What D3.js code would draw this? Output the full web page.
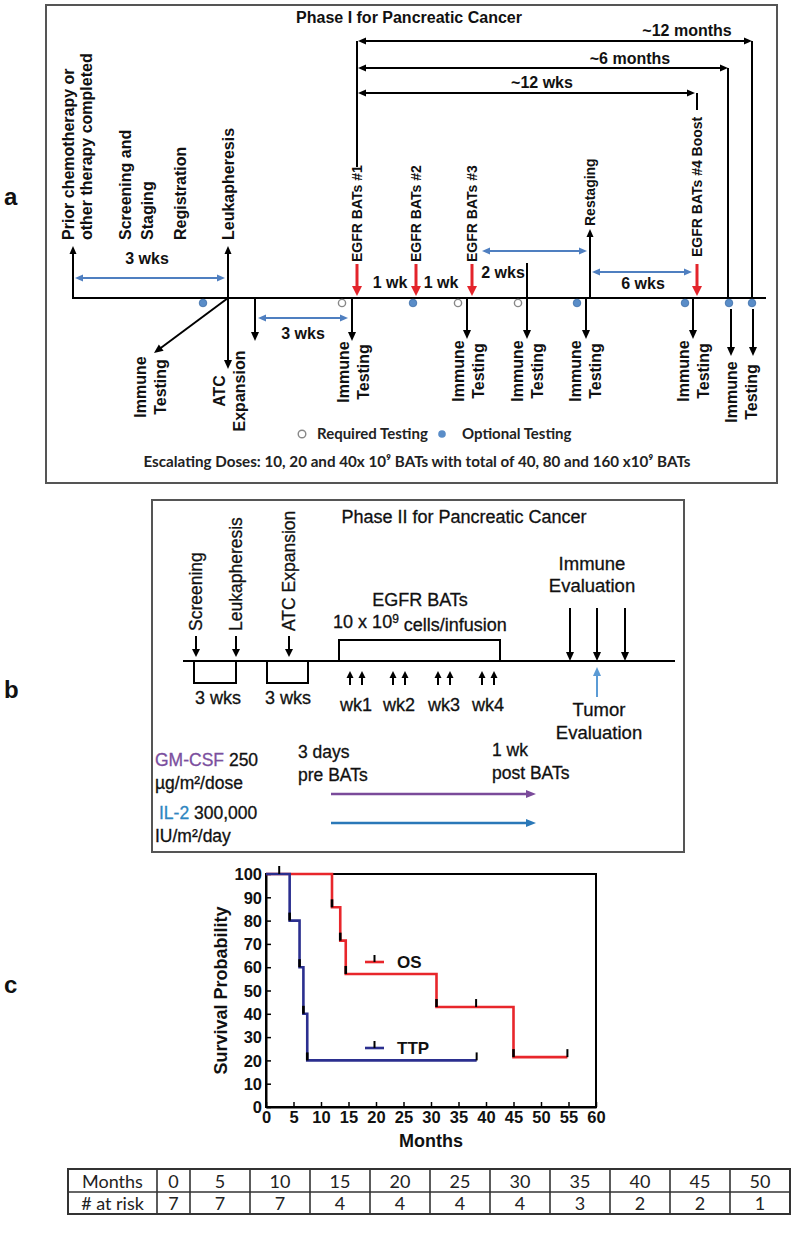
<!DOCTYPE html>
<html>
<head>
<meta charset="utf-8">
<script src="https://cdn.jsdelivr.net/npm/d3@7"></script>
<style>
  body { margin: 0; background: #fff; }
  svg { display: block; }
  text { font-family: "Liberation Sans", Arial, sans-serif; fill: #111; }
  .pb text { stroke: #111; stroke-width: 0.3px; }
</style>
</head>
<body>
<svg width="800" height="1236"></svg>
<script>
// ---- panel a texts
var titleA = "Phase I for Pancreatic Cancer";
var topLabels = [["Prior chemotherapy or", "other therapy completed"], ["Screening and", "Staging"], ["Registration"], ["Leukapheresis"]];
var batLabels = ["EGFR BATs #1", "EGFR BATs #2", "EGFR BATs #3", "EGFR BATs #4 Boost"];
var spanLabels = ["~12 months", "~6 months", "~12 wks"];
var gapLabels = ["3 wks", "3 wks", "1 wk", "1 wk", "2 wks", "6 wks"];
var belowLabels = [["Immune", "Testing"], ["ATC", "Expansion"], ["Immune", "Testing"], ["Immune", "Testing"],
  ["Immune", "Testing"], ["Immune", "Testing"], ["Immune", "Testing"], ["Immune", "Testing"]];
var testingKinds = ["Required Testing", "Optional Testing"];
var doseNote = "Escalating Doses: 10, 20 and 40x 10\u2079 BATs with total of 40, 80 and 160 x10\u2079 BATs";

// ---- panel b texts
var titleB = "Phase II for Pancreatic Cancer";
var prepLabels = ["Screening", "Leukapheresis", "ATC Expansion"];
var weekLabels = ["wk1", "wk2", "wk3", "wk4"];

// ---- panel c data (Kaplan-Meier)
var osTime = [0, 12, 13.5, 14.5, 31, 45];
var osSurv = [100, 85.7, 71.4, 57.1, 42.9, 21.4];
var osEnd = 54.8;
var osCensorT = [38.2, 54.8];
var osCensorS = [42.9, 21.4];
var ttpTime = [0, 4.3, 6.1, 6.8, 7.5];
var ttpSurv = [100, 80, 60, 40, 20];
var ttpEnd = 38.3;
var ttpCensorT = [2.4, 38.3];
var ttpCensorS = [100, 20];
var xTicks = [0, 5, 10, 15, 20, 25, 30, 35, 40, 45, 50, 55, 60];
var yTicks = [0, 10, 20, 30, 40, 50, 60, 70, 80, 90, 100];
var tableMonths = [0, 5, 10, 15, 20, 25, 30, 35, 40, 45, 50];
var atRisk = [7, 7, 7, 4, 4, 4, 4, 3, 2, 2, 1];

var svg = d3.select("svg");

// draw a line with filled arrow heads
function arrow(g, x1, y1, x2, y2, color, w, heads, hl, hw) {
  var dx = x2 - x1, dy = y2 - y1, L = Math.sqrt(dx * dx + dy * dy);
  var ux = dx / L, uy = dy / L;
  var sx = x1, sy = y1, ex = x2, ey = y2;
  if (heads == "end" || heads == "both") { ex = x2 - ux * hl * 0.7; ey = y2 - uy * hl * 0.7; }
  if (heads == "start" || heads == "both") { sx = x1 + ux * hl * 0.7; sy = y1 + uy * hl * 0.7; }
  g.append("line").attr("x1", sx).attr("y1", sy).attr("x2", ex).attr("y2", ey)
    .attr("stroke", color).attr("stroke-width", w);
  function head(tx, ty, vx, vy) {
    var bx = tx - vx * hl, by = ty - vy * hl;
    var px = -vy * hw / 2, py = vx * hw / 2;
    g.append("path").attr("d", "M" + tx + "," + ty + "L" + (bx + px) + "," + (by + py) + "L" + (bx - px) + "," + (by - py) + "Z")
      .attr("fill", color);
  }
  if (heads == "end" || heads == "both") head(x2, y2, ux, uy);
  if (heads == "start" || heads == "both") head(x1, y1, -ux, -uy);
}

// rotated text; "start" puts the bottom end of the text at y
function vtext(g, x, y, str, size, anchor, weight) {
  return g.append("text").attr("transform", "translate(" + x + "," + y + ") rotate(-90)")
    .attr("text-anchor", anchor).attr("dy", "0.35em")
    .style("font-size", size + "px").style("font-weight", weight || "bold").text(str);
}

function htext(g, x, y, str, size, anchor, weight) {
  return g.append("text").attr("x", x).attr("y", y).attr("dy", "0.35em")
    .attr("text-anchor", anchor || "middle")
    .style("font-size", size + "px").style("font-weight", weight || "bold").text(str);
}

// panel letters
[["a", 205], ["b", 698], ["c", 993]].forEach(function (d) {
  svg.append("text").attr("x", 4).attr("y", d[1]).style("font-size", "24px").style("font-weight", "bold").text(d[0]);
});

// ================= panel a =================
var A = svg.append("g");
var blueA = "#4f7fc0", redA = "#e3242b", dotBlue = "#5a8dc8";
A.append("rect").attr("x", 46).attr("y", 5).attr("width", 731).attr("height", 478)
  .attr("fill", "none").attr("stroke", "#555").attr("stroke-width", 2);
htext(A, 409, 17, titleA, 16);

A.append("line").attr("x1", 72).attr("x2", 766).attr("y1", 298).attr("y2", 298).attr("stroke", "#000").attr("stroke-width", 2);

// left top labels
arrow(A, 73, 298, 73, 246, "#000", 2, "end", 8, 7);
arrow(A, 228, 298, 228, 246, "#000", 2, "end", 8, 7);
var topX = [[68, 86], [125, 147], [180], [228]];
topLabels.forEach(function (lines, i) {
  lines.forEach(function (s, j) { vtext(A, topX[i][j], 240, s, 16, "start"); });
});
arrow(A, 75, 278, 225, 278, blueA, 2, "both", 8, 7);
htext(A, 147, 258, gapLabels[0], 16);

// BATs infusions
var batX = [357, 416, 472, 697];
batLabels.forEach(function (s, i) {
  vtext(A, batX[i], i == 3 ? 257 : 262, s, 14, "start");
  arrow(A, batX[i], 264, batX[i], 296, redA, 3, "end", 10, 10);
});
A.append("line").attr("x1", 357).attr("x2", 357).attr("y1", 41).attr("y2", 167).attr("stroke", "#000").attr("stroke-width", 2);

// follow-up spans
var spanY = [41, 68, 93], spanEnd = [752, 728, 695], spanLx = [687, 630, 542], spanLy = [30, 58, 82];
spanLabels.forEach(function (s, i) {
  arrow(A, 358, spanY[i], spanEnd[i], spanY[i], "#000", 2, "both", 8, 7);
  htext(A, spanLx[i], spanLy[i], s, 16);
});
A.append("line").attr("x1", 752).attr("x2", 752).attr("y1", 41).attr("y2", 298).attr("stroke", "#000").attr("stroke-width", 2);
A.append("line").attr("x1", 728).attr("x2", 728).attr("y1", 68).attr("y2", 298).attr("stroke", "#000").attr("stroke-width", 2);
A.append("line").attr("x1", 697).attr("x2", 697).attr("y1", 93).attr("y2", 110).attr("stroke", "#000").attr("stroke-width", 2);

htext(A, 390, 282, gapLabels[2], 16);
htext(A, 441, 282, gapLabels[3], 16);
htext(A, 503, 272, gapLabels[4], 16);
htext(A, 643, 283, gapLabels[5], 16);
A.append("line").attr("x1", 527).attr("x2", 527).attr("y1", 263).attr("y2", 298).attr("stroke", "#000").attr("stroke-width", 2);
arrow(A, 482, 251, 587, 251, blueA, 2, "both", 8, 7);
arrow(A, 592, 272, 692, 272, blueA, 2, "both", 8, 7);
arrow(A, 590, 298, 590, 229, "#000", 2, "end", 8, 7);
vtext(A, 590, 226, "Restaging", 14, "start");

// below timeline
arrow(A, 228, 298, 154, 353, "#000", 2, "end", 9, 8);
[[228, 298, 369], [255, 298, 341], [352, 298, 341], [467, 298, 339], [527, 298, 339], [586, 298, 339], [693, 298, 339], [731, 309, 356], [753, 309, 356]]
  .forEach(function (d) { arrow(A, d[0], d[1], d[0], d[2], "#000", 2, "end", 9, 8); });
arrow(A, 258, 318, 348, 318, blueA, 2, "both", 8, 7);
htext(A, 303, 333, gapLabels[1], 16);

var belowPos = [[150, 387], [229, 391], [353, 372], [468, 371], [527, 371], [585, 371], [693, 371], [741, 392]];
belowLabels.forEach(function (lines, i) {
  var p = belowPos[i];
  vtext(A, p[0] - 10, p[1], lines[0], 16, "middle");
  vtext(A, p[0] + 10, p[1], lines[1], 16, "middle");
});

// testing dots
[203, 413, 577, 685, 729, 752].forEach(function (x) {
  A.append("circle").attr("cx", x).attr("cy", 303).attr("r", 3.8).attr("fill", dotBlue).attr("stroke", "#3f6fa8").attr("stroke-width", 0.8);
});
[342, 458, 518].forEach(function (x) {
  A.append("circle").attr("cx", x).attr("cy", 303).attr("r", 3.6).attr("fill", "#fff").attr("stroke", "#888").attr("stroke-width", 1.4);
});

// legend
A.append("circle").attr("cx", 302).attr("cy", 434).attr("r", 3.8).attr("fill", "#fff").attr("stroke", "#888").attr("stroke-width", 1.4);
A.append("circle").attr("cx", 442).attr("cy", 434).attr("r", 3.8).attr("fill", dotBlue);
htext(A, 317, 434, testingKinds[0], 15, "start").style("font-family", "Lato").style("fill", "#222");
htext(A, 462, 434, testingKinds[1], 15, "start").style("font-family", "Lato").style("fill", "#222");
htext(A, 417, 462, doseNote, 15.2).style("font-family", "Lato").style("fill", "#222");

// ================= panel b =================
var B = svg.append("g").attr("class", "pb");
B.append("rect").attr("x", 152).attr("y", 500).attr("width", 532).attr("height", 352)
  .attr("fill", "none").attr("stroke", "#555").attr("stroke-width", 2);
htext(B, 464, 517, titleB, 18, "middle", "normal");
B.append("line").attr("x1", 183).attr("x2", 675).attr("y1", 661).attr("y2", 661).attr("stroke", "#000").attr("stroke-width", 2);

var prepX = [196, 236, 289];
prepLabels.forEach(function (s, i) {
  vtext(B, prepX[i], 631, s, 17.5, "start", "normal");
  arrow(B, prepX[i], 636, prepX[i], 657, "#000", 2, "end", 8, 8);
});
B.append("path").attr("d", "M194,661V683H236V661").attr("fill", "none").attr("stroke", "#000").attr("stroke-width", 2);
B.append("path").attr("d", "M267,661V683H308V661").attr("fill", "none").attr("stroke", "#000").attr("stroke-width", 2);
htext(B, 218, 698, "3 wks", 18, "middle", "normal");
htext(B, 288, 698, "3 wks", 18, "middle", "normal");

B.append("path").attr("d", "M339,661V640H500V661").attr("fill", "none").attr("stroke", "#000").attr("stroke-width", 2);
htext(B, 420, 600, "EGFR  BATs", 18, "middle", "normal");
var t10 = htext(B, 420, 622, "", 18, "middle", "normal");
t10.append("tspan").text("10 x 10");
t10.append("tspan").attr("dy", "-0.45em").style("font-size", "12px").text("9");
t10.append("tspan").attr("dy", "0.45em").text(" cells/infusion");

var wkX = [356, 399, 444, 488];
weekLabels.forEach(function (s, i) {
  [-6, 6].forEach(function (o) { arrow(B, wkX[i] + o, 685, wkX[i] + o, 671, "#000", 2, "end", 7, 7); });
  htext(B, wkX[i], 705, s, 18, "middle", "normal");
});

htext(B, 592, 564, "Immune", 18.5, "middle", "normal");
htext(B, 592, 586, "Evaluation", 18.5, "middle", "normal");
[570, 597, 625].forEach(function (x) { arrow(B, x, 608, x, 661, "#000", 2, "end", 9, 8); });
arrow(B, 597, 697, 597, 667, "#5b9bd5", 2, "end", 9, 8);
htext(B, 599, 710, "Tumor", 18.5, "middle", "normal");
htext(B, 599, 733, "Evaluation", 18.5, "middle", "normal");

var gm = htext(B, 155, 760, "", 17.5, "start", "normal");
gm.append("tspan").style("fill", "#7b4f9e").style("stroke", "#7b4f9e").text("GM-CSF");
gm.append("tspan").text(" 250");
htext(B, 155, 783, "\u00b5g/m\u00b2/dose", 17.5, "start", "normal");
var il = htext(B, 159, 813, "", 17.5, "start", "normal");
il.append("tspan").style("fill", "#2e86c1").style("stroke", "#2e86c1").text("IL-2");
il.append("tspan").text(" 300,000");
htext(B, 155, 836, "IU/m\u00b2/day", 17.5, "start", "normal");
htext(B, 298, 752, "3 days", 17.5, "start", "normal");
htext(B, 298, 775, "pre BATs", 17.5, "start", "normal");
htext(B, 492, 750, "1 wk", 17.5, "start", "normal");
htext(B, 492, 773, "post  BATs", 17.5, "start", "normal");
arrow(B, 331, 794, 536, 794, "#7a4a9a", 2.5, "end", 10, 8);
arrow(B, 331, 823, 536, 823, "#2a78b8", 2.5, "end", 10, 8);

// ================= panel c =================
var C = svg.append("g");
var x = d3.scaleLinear().domain([0, 60]).range([266, 596]);
var y = d3.scaleLinear().domain([0, 100]).range([1107, 874]);

C.append("rect").attr("x", x(0)).attr("y", y(100)).attr("width", x(60) - x(0)).attr("height", y(0) - y(100))
  .attr("fill", "none").attr("stroke", "#000").attr("stroke-width", 2);

var ax = C.append("g").attr("transform", "translate(0," + y(0) + ")")
  .call(d3.axisBottom(x).tickValues(xTicks).tickSizeInner(-5).tickSizeOuter(0).tickPadding(6));
var ay = C.append("g").attr("transform", "translate(" + x(0) + ",0)")
  .call(d3.axisLeft(y).tickValues(yTicks).tickSizeInner(-5).tickSizeOuter(0).tickPadding(4));
[ax, ay].forEach(function (g) {
  g.select(".domain").attr("stroke", "#000").attr("stroke-width", 2);
  g.selectAll(".tick line").attr("stroke", "#000").attr("stroke-width", 1.5);
  g.selectAll("text").style("font-size", "16.5px").style("font-weight", "bold")
    .style("font-family", "'Liberation Sans', Arial, sans-serif").attr("fill", "#111");
});
ay.selectAll("text").attr("dy", "0.35em");
ax.selectAll("text").attr("dy", "0.6em");

C.append("text").attr("transform", "translate(221," + ((y(0) + y(100)) / 2) + ") rotate(-90)")
  .attr("text-anchor", "middle").attr("dy", "0.35em")
  .style("font-size", "18px").style("font-weight", "bold").text("Survival Probability");
htext(C, (x(0) + x(60)) / 2, 1141, "Months", 18);

var stepLine = d3.line().x(function (d) { return x(d[0]); }).y(function (d) { return y(d[1]); }).curve(d3.curveStepAfter);
function curve(times, surv, end, color) {
  var pts = times.map(function (t, i) { return [t, surv[i]]; });
  pts.push([end, surv[surv.length - 1]]);
  C.append("path").attr("d", stepLine(pts)).attr("fill", "none").attr("stroke", color).attr("stroke-width", 2.6);
  for (var i = 1; i < times.length; i++) {
    C.append("line").attr("x1", x(times[i])).attr("x2", x(times[i])).attr("y1", y(surv[i]) - 8).attr("y2", y(surv[i]))
      .attr("stroke", "#000").attr("stroke-width", 2.6);
  }
}
function censor(ts, ss) {
  ts.forEach(function (t, i) {
    C.append("line").attr("x1", x(t)).attr("x2", x(t)).attr("y1", y(ss[i]) - 8).attr("y2", y(ss[i]))
      .attr("stroke", "#000").attr("stroke-width", 2);
  });
}
curve(osTime, osSurv, osEnd, "#e8262b");
curve(ttpTime, ttpSurv, ttpEnd, "#2b2f8f");
censor(osCensorT, osCensorS);
censor(ttpCensorT, ttpCensorS);

// legend
[["OS", "#e8262b", 962], ["TTP", "#2b2f8f", 1048]].forEach(function (d) {
  C.append("line").attr("x1", 365).attr("x2", 384).attr("y1", d[2]).attr("y2", d[2]).attr("stroke", d[1]).attr("stroke-width", 2.6);
  C.append("line").attr("x1", 374.5).attr("x2", 374.5).attr("y1", d[2] - 7).attr("y2", d[2]).attr("stroke", "#000").attr("stroke-width", 2);
  htext(C, 397, d[2], d[0], 17, "start");
});

// at-risk table
var T = svg.append("g");
var colW = [89, 33].concat(tableMonths.slice(1).map(function () { return 60; }));
var colX = [68];
colW.forEach(function (w, i) { colX.push(colX[i] + w); });
var rowY = [1169, 1192, 1214];
var rows = [["Months"].concat(tableMonths), ["# at risk"].concat(atRisk)];
T.append("rect").attr("x", colX[0]).attr("y", rowY[0]).attr("width", colX[colX.length - 1] - colX[0]).attr("height", rowY[2] - rowY[0])
  .attr("fill", "none").attr("stroke", "#333").attr("stroke-width", 2);
T.append("line").attr("x1", colX[0]).attr("x2", colX[colX.length - 1]).attr("y1", rowY[1]).attr("y2", rowY[1]).attr("stroke", "#333").attr("stroke-width", 1.6);
colX.slice(1, -1).forEach(function (cx) {
  T.append("line").attr("x1", cx).attr("x2", cx).attr("y1", rowY[0]).attr("y2", rowY[2]).attr("stroke", "#333").attr("stroke-width", 1.6);
});
rows.forEach(function (r, ri) {
  r.forEach(function (v, ci) {
    htext(T, (colX[ci] + colX[ci + 1]) / 2, (rowY[ri] + rowY[ri + 1]) / 2 + 1, v, 18, "middle", "normal")
      .style("font-family", "Lato").style("fill", "#222");
  });
});
</script>
</body>
</html>
